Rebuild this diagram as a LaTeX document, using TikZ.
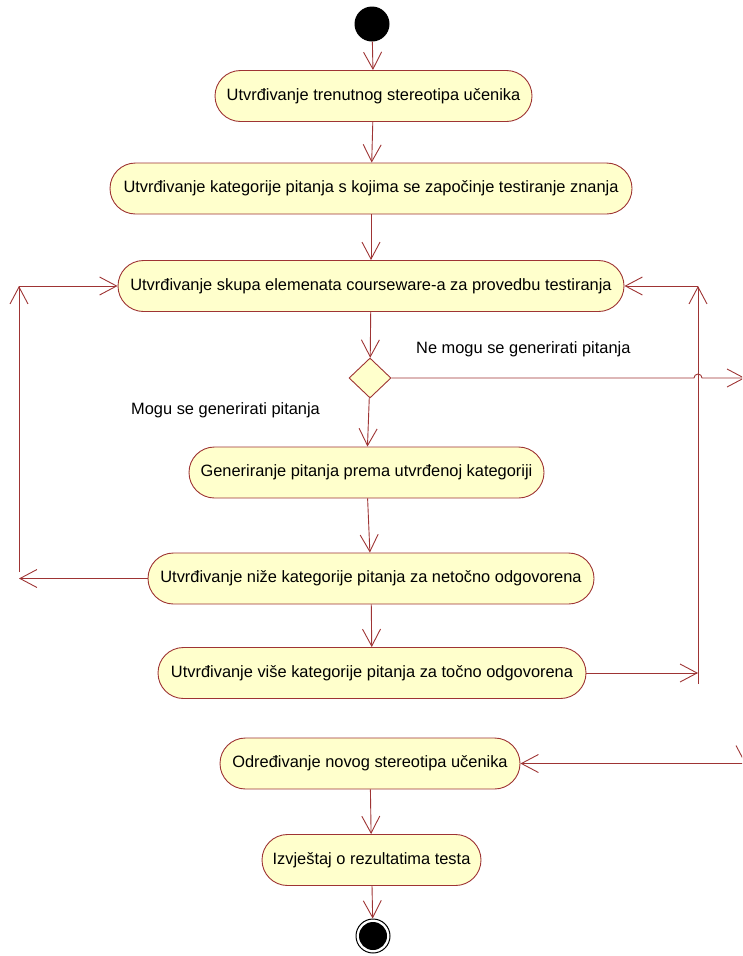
\documentclass[tikz,border=0pt]{standalone}
\usepackage{fontspec}
\setmainfont{Liberation Sans}
\usetikzlibrary{arrows.meta,shapes.geometric}
\definecolor{umlline}{RGB}{158,52,52}
\definecolor{umlfill}{RGB}{255,255,204}
\tikzset{
  act/.style={draw=umlline, fill=umlfill, line width=0.9pt, rounded corners=25.5pt,
    minimum height=51pt, inner sep=0pt, font=\fontsize{16.4pt}{19pt}\selectfont},
  flow/.style={draw=umlline, line width=0.9pt,
    -{Straight Barb[length=17pt,width=18pt,line width=0.9pt]}},
  lbl/.style={font=\fontsize{16.4pt}{19pt}\selectfont, inner sep=0pt}
}
\begin{document}
\begin{tikzpicture}[x=1pt,y=-1pt]
\useasboundingbox (0,0) rectangle (742,956);
\clip (0,0) rectangle (742,956);

% initial and final states
\node (start) [circle, fill=black, minimum size=35pt, inner sep=0pt] at (372,24) {};
\node (stop) [circle, draw=black, line width=1pt, minimum size=34pt, inner sep=0pt] at (373,936) {};
\fill[black] (stop.center) circle[radius=14pt];

% activities
\node (a1) [act, minimum width=317pt] at (373.5,96) {Utvrđivanje trenutnog stereotipa učenika};
\node (a2) [act, minimum width=522pt] at (371,188.5) {Utvrđivanje kategorije pitanja s kojima se započinje testiranje znanja};
\node (a3) [act, minimum width=506pt] at (371,286) {Utvrđivanje skupa elemenata courseware-a za provedbu testiranja};
\node (dec) [diamond, draw=umlline, fill=umlfill, line width=0.9pt, minimum width=42pt, minimum height=40pt, inner sep=0pt] at (370,378) {};
\node (a4) [act, minimum width=355pt] at (366.5,472.5) {Generiranje pitanja prema utvrđenoj kategoriji};
\node (a5) [act, minimum width=446pt] at (371,578.5) {Utvrđivanje niže kategorije pitanja za netočno odgovorena};
\node (a6) [act, minimum width=428pt] at (372,673) {Utvrđivanje više kategorije pitanja za točno odgovorena};
\node (a7) [act, minimum width=300pt] at (370,763.5) {Određivanje novog stereotipa učenika};
\node (a8) [act, minimum width=219pt] at (371.5,860) {Izvještaj o rezultatima testa};

% guard labels
\node (gno) [lbl, anchor=west] at (416,349) {Ne mogu se generirati pitanja};
\node (gyes) [lbl, anchor=west] at (131,410) {Mogu se generirati pitanja};

% bend points of the loops
\coordinate (l1) at (19,578.5);
\coordinate (l2) at (19,572);
\coordinate (l3) at (19,286);
\coordinate (r1) at (698,673);
\coordinate (r2) at (698,684);
\coordinate (r3) at (698,286);
\coordinate (hop) at (698,378);
\coordinate (h1) at (745,378);
\coordinate (h2) at (745,763.5);

% main flow
\draw[flow] (start) -- (a1);
\draw[flow] (a1) -- (a2);
\draw[flow] (a2) -- (a3);
\draw[flow] (a3) -- (dec);
\draw[flow] (dec) -- (a4);
\draw[flow] (a4) -- (a5);
\draw[flow] (a5) -- (a6);
\draw[flow] (a7) -- (a8);
\draw[flow] (a8) -- (stop);

% lower category: back to the courseware selection
\draw[flow] (a5.west) -- (l1);
\draw[flow] (l2) -- (l3);
\draw[flow] (l3) -- (a3.west);

% higher category: back to the courseware selection
\draw[flow] (a6.east) -- (r1);
\draw[flow] (r2) -- (r3);
\draw[flow] (r3) -- (a3.east);

% no questions: on to the new stereotype
\draw[flow] (dec.east) -- ([xshift=-4pt]hop) arc[start angle=180, end angle=0, radius=4pt] -- (h1);
\draw[flow] (h1) -- (h2);
\draw[flow] (h2) -- (a7.east);
\end{tikzpicture}
\end{document}
